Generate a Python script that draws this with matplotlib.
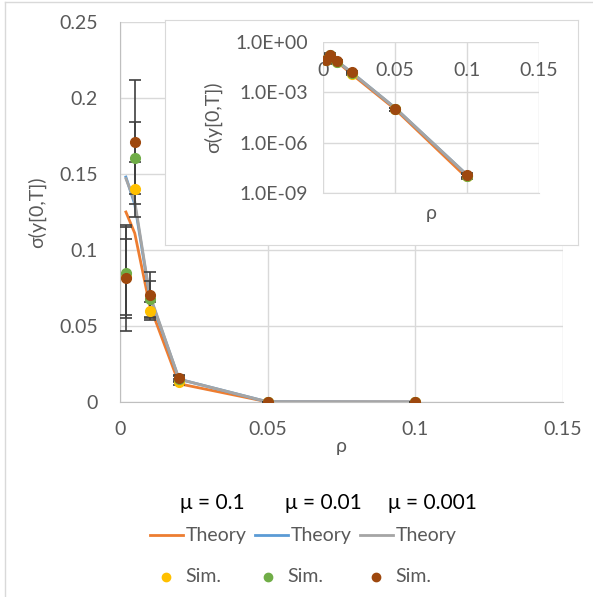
import numpy as np
import matplotlib
matplotlib.use('Agg')
import matplotlib.pyplot as plt
from matplotlib.lines import Line2D

plt.rcParams['font.family'] = ['Lato', 'DejaVu Sans']

rho = [0.002, 0.005, 0.01, 0.02, 0.05, 0.1]

# theory curves, mu = 0.1 / 0.01 / 0.001
theory_01 = [0.125, 0.111, 0.064, 0.012, 1.0e-4, 8.0e-9]
theory_001 = [0.148, 0.130, 0.070, 0.015, 1.2e-4, 1.2e-8]
theory_0001 = [0.147, 0.132, 0.071, 0.015, 1.2e-4, 1.2e-8]

# simulations
sim_01 = [0.082, 0.140, 0.060, 0.013, 1.0e-4, 1.0e-8]
sim_01_err = [0.025, 0.018, 0.006, 0.002, 2e-5, 3e-9]
sim_001 = [0.085, 0.1605, 0.0677, 0.015, 1.0e-4, 1.1e-8]
sim_001_err = [0.030, 0.0235, 0.012, 0.002, 2e-5, 3e-9]
sim_0001 = [0.0816, 0.171, 0.0704, 0.016, 1.0e-4, 1.2e-8]
sim_0001_err = [0.035, 0.041, 0.015, 0.002, 2e-5, 3e-9]

mu_labels = ['\u03bc = 0.1', '\u03bc = 0.01', '\u03bc = 0.001']
line_cols = ['#ED7D31', '#5B9BD5', '#A5A5A5']
sim_cols = ['#FFC000', '#70AD47', '#9E480E']
theories = [theory_01, theory_001, theory_0001]
sims = [sim_01, sim_001, sim_0001]
errs = [sim_01_err, sim_001_err, sim_0001_err]

W, H = 593, 597
fig = plt.figure(figsize=(W / 100, H / 100), dpi=100)
tcol = '#595959'
gcol = '#D9D9D9'
fs = 14


def box(l, t, r, b):
    return [l / W, 1 - b / H, (r - l) / W, (b - t) / H]


def draw(ax, log=False):
    for y, c in zip(theories, line_cols):
        ax.plot(rho, y, color=c, lw=2, zorder=2)
    for y, e, c in zip(sims, errs, sim_cols):
        ax.errorbar(rho, y, yerr=e, fmt='o', color=c, ms=7, ecolor='#404040',
                    elinewidth=1.2, capsize=4, capthick=1.2, zorder=3)
    ax.set_xlim(0, 0.15)
    ax.set_xticks([0, 0.05, 0.1, 0.15])
    ax.set_xticklabels(['0', '0.05', '0.1', '0.15'])
    ax.grid(True, color=gcol, lw=1)
    ax.set_axisbelow(True)
    for s in ax.spines.values():
        s.set_visible(False)
    ax.tick_params(length=0, colors=tcol, labelsize=fs)


# main axes
ax = fig.add_axes(box(120, 22, 563, 402))
draw(ax)
ax.set_ylim(0, 0.25)
ax.set_yticks([0, 0.05, 0.1, 0.15, 0.2, 0.25])
ax.set_yticklabels(['0', '0.05', '0.1', '0.15', '0.2', '0.25'])
ax.spines['left'].set_visible(True)
ax.spines['bottom'].set_visible(True)
ax.spines['left'].set_color('#BFBFBF')
ax.spines['bottom'].set_color('#BFBFBF')
ax.tick_params(axis='x', pad=14)
ax.tick_params(axis='y', pad=16)
ax.set_xlabel('\u03c1', color=tcol, fontsize=fs, labelpad=0)
ax.set_ylabel('\u03c3(y[0,T])', color=tcol, fontsize=fs, labelpad=9)

# inset frame
frame = fig.add_axes(box(165, 20, 578, 245))
frame.set_xticks([])
frame.set_yticks([])
for s in frame.spines.values():
    s.set_color(gcol)
frame.set_facecolor('white')
frame.set_zorder(5)

ins = fig.add_axes(box(323, 42, 539, 193))
ins.set_zorder(6)
draw(ins)
ins.set_yscale('log')
ins.set_ylim(1e-9, 1)
ins.set_yticks([1, 1e-3, 1e-6, 1e-9])
ins.set_yticklabels(['1.0E+00', '1.0E-03', '1.0E-06', '1.0E-09'])
ins.minorticks_off()
ins.tick_params(axis='y', which='both', left=False, pad=11)
ins.tick_params(axis='x', bottom=False, top=False, labelbottom=False,
                labeltop=True, pad=-27)
ins.spines['bottom'].set_visible(True)
ins.spines['bottom'].set_color(gcol)
ins.text(0.5, -0.08, '\u03c1', transform=ins.transAxes, ha='center', va='top',
         color=tcol, fontsize=fs)
ins.set_ylabel('\u03c3(y[0,T])', color=tcol, fontsize=fs, labelpad=9)

# legend
for x, t in zip([212, 323, 432], mu_labels):
    fig.text(x / W, 1 - 503 / H, t, ha='center', va='center', fontsize=fs + 1,
             color='black')
for x, c in zip([150, 255, 360], line_cols):
    fig.add_artist(Line2D([x / W, (x + 33) / W], [1 - 535 / H] * 2, color=c,
                          lw=2))
    fig.text((x + 36) / W, 1 - 535 / H, 'Theory', ha='left', va='center',
             fontsize=fs, color=tcol)
for x, c in zip([166, 268, 376], sim_cols):
    fig.add_artist(Line2D([x / W], [1 - 577 / H], marker='o', color=c, ms=6,
                          lw=0))
    fig.text((x + 19) / W, 1 - 577 / H, 'Sim.', ha='left', va='center',
             fontsize=fs, color=tcol)

# chart border
fig.add_artist(Line2D([5 / W, 1], [1 - 2 / H] * 2, color=gcol, lw=1))
fig.add_artist(Line2D([5 / W] * 2, [0, 1 - 2 / H], color=gcol, lw=1))

fig.savefig('out.png', dpi=100)
